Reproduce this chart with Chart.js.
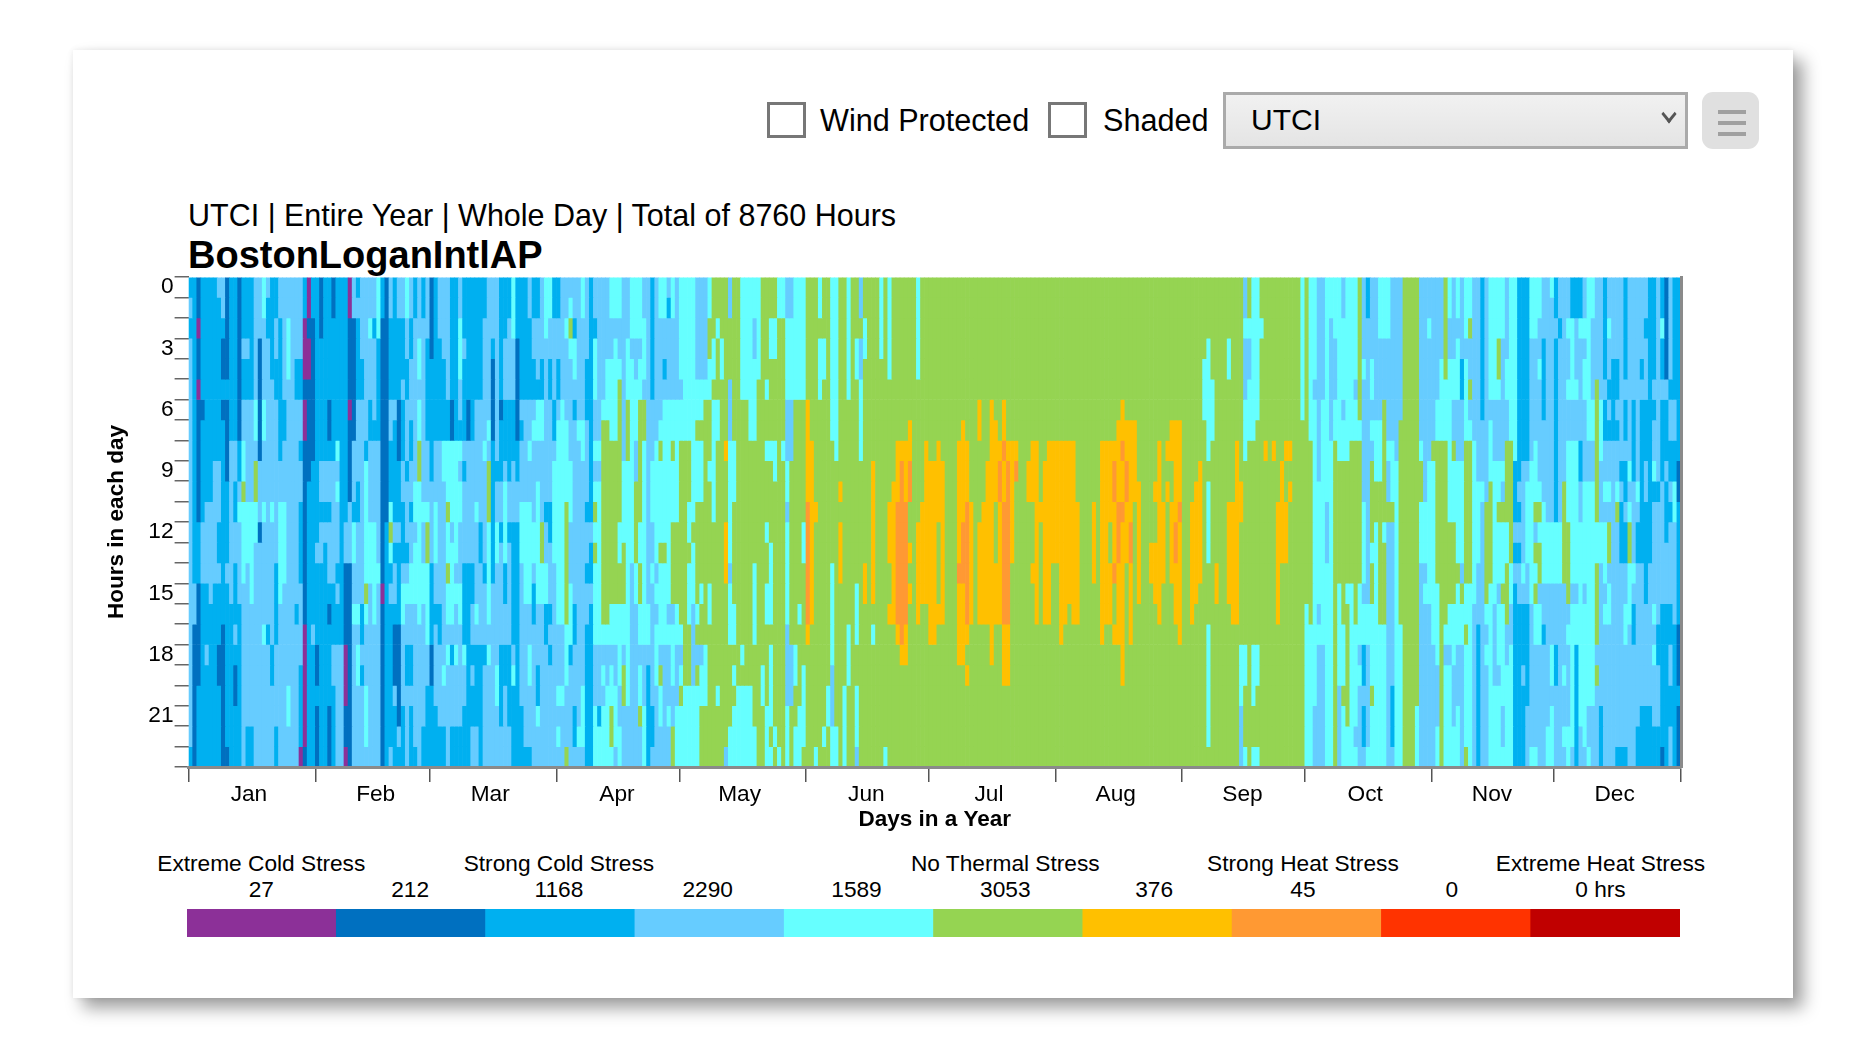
<!DOCTYPE html>
<html>
<head>
<meta charset="utf-8">
<title>UTCI</title>
<script src="https://cdn.jsdelivr.net/npm/chart.js@4"></script>
<style>
  html, body { margin: 0; padding: 0; background: #fff; width: 1860px; height: 1062px; overflow: hidden; }
  body { font-family: "Liberation Sans", Arial, sans-serif; color: #000; position: relative; }
  #card { position: absolute; left: 73px; top: 50px; width: 1720px; height: 948px; background: #fff;
          box-shadow: 10px 10px 16px rgba(0,0,0,.38), 0 0 6px rgba(0,0,0,.08); }
  .abs { position: absolute; white-space: nowrap; }
  .check { position: absolute; appearance: none; margin: 0; top: 102px; width: 39px; height: 36px;
           box-sizing: border-box; border: 3px solid #777; background: #fff; }
  .ctl { font-size: 30.6px; top: 103px; line-height: 34px; }
  #utci { position: absolute; left: 1229px; top: 92px; width: 465px; height: 57px; box-sizing: border-box;
          left: 1223px; appearance: none; border: 3px solid #aaa; border-radius: 0; padding: 0 0 3px 25px;
          font: 30px "Liberation Sans", Arial, sans-serif; color: #000;
          background: linear-gradient(#f1f1f1, #e4e4e4); }
  #chev { position: absolute; left: 1662px; top: 110px; width: 12px; height: 12px; box-sizing: border-box;
          left: 1663px; top: 108px; border-right: 3px solid #555; border-bottom: 3px solid #555; transform: rotate(45deg) skew(6deg, 6deg); }
  #menu { position: absolute; left: 1702px; top: 92px; width: 57px; height: 57px; background: #e0e0e0; border-radius: 11px; }
  #menu i { position: absolute; left: 16px; width: 28px; height: 4px; background: #a0a0a0; }
  #sub { left: 188px; top: 198px; font-size: 30.5px; line-height: 34px; }
  #name { left: 188px; top: 233px; font-size: 38px; line-height: 44px; font-weight: bold; }
  #heat { position: absolute; left: 100px; top: 250px; }
  #legendBar { position: absolute; left: 187px; top: 909px; }
  .lg { position: absolute; font-size: 22.7px; line-height: 26px; transform: translateX(-50%); white-space: nowrap; }
</style>
</head>
<body>
<div id="card"></div>
<input type="checkbox" class="check" style="left:767px">
<div class="abs ctl" style="left:820px">Wind Protected</div>
<input type="checkbox" class="check" style="left:1048px">
<div class="abs ctl" style="left:1103px">Shaded</div>
<select id="utci"><option>UTCI</option></select>
<div id="chev"></div>
<div id="menu"><i style="top:18px"></i><i style="top:29px"></i><i style="top:40px"></i></div>
<div class="abs" id="sub">UTCI | Entire Year | Whole Day | Total of 8760 Hours</div>
<div class="abs" id="name">BostonLoganIntlAP</div>
<canvas id="heat" width="1620" height="600"></canvas>
<canvas id="legendBar" width="1493" height="28"></canvas>
<div id="legendText"></div>
<script>
// stress class colours, coldest to hottest
const classColors = ["#8C3098", "#0070C0", "#00B0F0", "#66CCFF", "#66FFFF", "#95D452", "#FFC000", "#FF9933", "#FF3300", "#C00000"];
const legendNames = ["Extreme Cold Stress", "", "Strong Cold Stress", "", "", "No Thermal Stress", "", "Strong Heat Stress", "", "Extreme Heat Stress"];
const legendHours = ["27", "212", "1168", "2290", "1589", "3053", "376", "45", "0", "0 hrs"];

const monthNames = ["Jan", "Feb", "Mar", "Apr", "May", "Jun", "Jul", "Aug", "Sep", "Oct", "Nov", "Dec"];
const monthStarts = [0, 31, 59, 90, 120, 151, 181, 212, 243, 273, 304, 334, 365];
const monthLabelDays = [15, 46, 74, 105, 135, 166, 196, 227, 258, 288, 319, 349];
const hourLabels = [0, 3, 6, 9, 12, 15, 18, 21];

// one string per day, one class digit per hour (0-23)
const janDays = [
"232333 333333 333333 333332","222222 222222 222331 111111","110110 111111 222111 112222","222222 122222 333222 222222",
"222222 222223 333222 322222","222222 222223 333322 222222","222222 222333 333222 222222","322222 222333 223222 112222",
"332112 122222 222221 111111","111112 111122 223222 222221","222222 223333 333322 222222","222222 223322 332223 211222",
"111111 112234 333322 222222","222322 334454 444333 333333","222322 333334 443333 333322","222222 333334 444433 333322",
"333333 443554 433333 333333","333111 111333 133333 333333","443333 443334 333334 333333","322333 333333 333332 333333",
"222223 333334 333333 223333","223322 333333 332222 333322","332222 222334 444433 333333","333333 223334 444333 333333",
"334443 333333 333333 334433","333333 333333 333333 333333","333322 333333 333323 333333","333322 332332 222333 322220",
"220001 001111 111110 000001","001001 111122 222222 222222","221111 111222 222223 222222"];
const febDays = [
"222222 222222 232222 112111","111222 222332 332222 222222","222222 222332 322222 222222","222222 112332 333212 222111",
"112222 222333 333222 332222","222222 224343 332322 333333","222222 222222 222222 333333","222222 222222 331111 000110",
"001111 011113 331111 111111","331111 113332 443343 333333","232222 333322 333343 443333","333322 333333 333322 323333",
"333333 332444 444543 334443","334333 223333 444333 333333","332333 323333 444443 333333","444222 223333 334333 333333",
"221111 111111 111011 111111","111111 111111 222222 222222","332222 332224 542322 222223","222222 322222 323321 113222",
"332222 111222 322221 111132","332223 222332 223443 333222","443322 333233 323433 223333","332233 322332 334433 223222",
"223333 333344 344433 333332","333443 445544 444443 333333","223333 333334 334433 333322","333222 223334 554444 332222"];
const marDays = [
"111122 222233 332222 112222","222222 223334 443323 333222","333222 223333 333322 333322","333322 224433 333333 343322",
"333333 224445 445443 433333","222222 114444 344443 233322","222222 224444 443433 433322","334443 324344 333443 333322",
"222322 223233 332222 433222","222222 113333 332222 222222","222222 223333 332233 232233","222222 333334 333343 222233",
"222222 333333 223333 222222","223333 334333 332333 233333","333333 343555 444443 433333","333211 112222 222333 333333",
"333333 333233 443333 344333","222222 122233 233333 222233","222333 222344 442233 223333","223333 222233 233333 222233",
"444333 222333 222222 342222","222111 112233 222222 222222","222222 323334 443333 333222","222222 333334 444433 333332",
"332222 334334 444433 443332","223322 343333 443223 333333","223332 443344 444433 322433","333322 443333 554433 333333",
"444333 333332 334422 333333","443322 333332 233323 233333","223333 223444 443333 333333"];
const aprDays = [
"223322 344444 444443 334343","333333 444444 444443 334333","334333 344445 555554 443335","345433 333444 333444 233333",
"332443 233333 333322 333223","333333 343333 333333 333343","443333 344333 333333 334443","333322 233332 332332 222222",
"222222 222222 322322 222222","332444 334345 454444 333444","333333 334344 444444 333244","333333 455555 555554 343444",
"333344 455555 555554 334444","443344 445555 555544 344554","443444 445555 555544 334443","443345 555555 445544 443344",
"333333 333444 455544 355333","333444 555444 444444 444333","444344 444444 443333 333333","444334 443355 554433 333333",
"444344 555555 445544 344533","334443 554444 444444 333444","333333 333333 333344 322222","222222 333444 334333 333223",
"333333 334444 443434 443333","443333 345444 454444 354433","443323 444444 454444 333333","323333 444444 444434 333433",
"443333 445444 555534 443355","333333 444444 555544 333444"];
const mayDays = [
"444443 445555 555554 345444","444444 445555 555555 554444","444444 445554 454445 554444","444444 444444 544433 334444",
"333334 454445 555545 354444","333334 454445 555455 344555","333334 555555 555555 444555","445544 555455 555445 555555",
"555445 444444 555555 555555","554555 445555 555555 554555","555445 555555 555555 555555","555555 556555 666555 555553",
"335553 334444 443444 555544","555555 554445 555544 545444","555555 555555 555555 554444","444444 555555 555555 454444",
"444444 555555 555555 554444","444444 445555 555555 554444","443344 445555 554444 555544","444445 555555 555555 555555",
"555555 555555 555555 544555","555554 554555 455445 555444","554455 554555 544445 444454","554455 554455 555555 555545",
"445555 555555 555555 555554","445555 554555 555555 555555","334444 333443 444443 333444","334444 333555 555555 333555",
"444444 555555 555555 445544","444444 555555 555545 555444","444444 555555 445555 544445"];
const junDays = [
"555555 666667 777776 555555","555555 556666 666665 555555","555555 555556 555555 555554","445444 555555 555555 555555",
"555445 555555 555555 555545","555555 555555 555555 554455","444444 445555 554444 433344","444444 444555 555555 555544",
"555555 555565 666555 555555","555555 555555 555555 554444","444444 555555 555554 445555","555555 555555 555555 555555",
"555445 555555 555444 554443","335334 444555 555555 555555","554455 555555 556655 555555","555555 555555 555555 555555",
"555555 555666 666654 555555","555555 555555 555555 555555","444455 555555 555555 555555","555555 555555 555555 555554",
"444445 555556 665565 555555","555555 555566 666665 555555","555555 556667 777776 555555","555555 556777 777777 655555",
"555555 556667 777776 655555","555555 566775 565655 555555","555555 555555 555555 555555","444445 555555 666665 555555",
"555555 555556 666655 555555","555555 556666 666655 555555"];
const julDays = [
"555555 555666 666666 555555","555555 555666 666666 555555","555555 556666 555565 555555","555555 555666 666665 555555",
"555555 555555 555555 555555","555555 555555 555555 555555","555555 555555 555555 555555","555555 556666 667666 655555",
"555555 566666 777666 655555","555555 556667 777776 565555","555555 555556 666665 555555","555555 555555 555555 555555",
"555555 665555 666665 555555","555555 555556 666665 555555","555555 555666 666665 555555","555555 666666 666666 655555",
"555555 566665 556665 555555","555555 556776 666665 555555","555555 667667 777776 665555","555555 556777 777776 665555",
"555555 556666 665555 555555","555555 556755 555555 555555","555555 555555 555555 555555","555555 555555 555555 555555",
"555555 555665 555555 555555","555555 556665 556555 555555","555555 556666 666665 555555","555555 555556 555555 555555",
"555555 555666 666665 555555","555555 556666 666665 555555","555555 556666 665555 555555"];
const augDays = [
"555555 556666 665555 555555","555555 556666 666666 555555","555555 556666 666665 555555","555555 556666 666655 555555",
"555555 556666 666665 555555","555555 555556 666665 555555","555555 555555 555555 555555","555555 555555 555555 555555",
"555555 555555 555555 555555","555555 555556 666555 555555","555555 555555 555555 555555","555555 556666 666666 555555",
"555555 556666 666665 555555","555555 556666 556665 555555","555555 556776 667556 555555","555555 566667 776666 555555",
"555555 667667 666666 665555","555555 566776 665555 555555","555555 566666 776666 555555","555555 566665 555555 555555",
"555555 555566 666655 555555","555555 555555 555555 555555","555555 555555 555555 555555","555555 555555 566555 555555",
"555555 555565 566655 555555","555555 556666 666665 555555","555555 555556 666555 555555","555555 556565 555555 555555",
"555555 566556 666555 555555","555555 566666 776665 555555","555555 566667 666666 555555"];
const sepDays = [
"555555 555555 555555 555555","555555 555555 555555 555555","555555 555556 666665 555555","555555 555566 666655 555555",
"555555 555666 666555 555555","555544 455555 555555 555555","555444 444544 445554 444445","555554 445555 555555 555555",
"555555 555555 556655 555555","555555 555555 555555 555555","555555 555555 555555 555555","555445 555556 666655 555555",
"555555 555556 666665 555555","555555 556666 666665 555555","555555 555566 555555 444333","334333 444555 555555 445554",
"554334 445555 555555 555555","444444 445555 555555 444554","444444 455555 555555 445554","554555 555555 555555 555555",
"555555 556555 555555 555555","555555 555555 555555 555555","555555 556555 555555 555555","555555 555556 666665 555555",
"555555 555666 665555 555555","555555 556556 665555 555555","555555 556565 555555 555555","555555 555555 555555 555555",
"555555 555555 555555 555555","444444 455555 555555 555555"];
const octDays = [
"555555 555555 555544 444444","444444 445555 555554 444444","444443 444444 444444 444333","333333 333344 444434 333333",
"333333 444444 444444 333333","444444 444443 334444 444444","443333 334444 444444 444444","444333 445555 555555 555555",
"444444 444555 555444 443333","334444 344555 555554 445444","444444 444555 555455 555544","444444 445555 555444 444444",
"444443 445555 555554 444434","555555 545555 555444 343333","333343 333334 444344 223223","223333 333333 333344 333334",
"333344 343555 545544 445444","333333 344455 444444 444444","444333 344455 555554 444444","444333 555555 455554 444444",
"444333 334335 333333 333333","333333 334445 333333 332223","333333 333444 444444 444444","333333 355555 555554 444444",
"555555 555555 555555 555555","555555 555555 555555 555555","555555 555555 555555 555555","555555 555555 555555 555444",
"333333 334554 443333 333333","333333 333334 443433 333333","334333 333444 444433 333333"];
const novDays = [
"333333 335444 444444 333333","333333 445555 555444 433344","333344 445555 555555 555555","555554 445555 555554 344444",
"443344 444444 555544 344444","333344 335444 555544 433344","443444 333444 445444 333444","333322 333444 443544 333333",
"444344 445555 555445 444445","445335 345555 555444 444444","333333 334444 444433 333333","333333 333344 443332 222222",
"222222 233343 333333 333333","333333 333335 555543 433333","444444 344455 555444 444444","444444 333444 444433 334444",
"444554 333445 444344 434444","444333 333435 444544 444334","333344 335555 445553 344444","444444 445555 554433 444444",
"444444 444222 323222 222222","222222 222232 323322 222222","222222 222333 334322 232222","222222 222344 443322 222333",
"444333 333444 444433 333334","444333 334445 354544 333334","443343 333345 455344 333333","333222 233334 444332 333333",
"333333 333333 444333 333344","433333 333333 444333 443444"];
const decDays = [
"223222 222222 444333 223333","332333 333333 444333 333333","333333 333355 555333 343343","334334 334444 555534 333344",
"224444 334444 444344 444443","223334 334444 444344 222222","224333 332233 444444 444433","334344 333344 444344 444443",
"444444 443344 444444 444334","443333 443344 444444 444333","333335 555555 445555 353333","333333 444333 443333 333222",
"222223 223343 444343 333333","334332 323343 553443 333333","333322 223333 333333 333333","333322 323345 333333 333332",
"333333 333232 223333 333332","222223 223223 223344 333332","333333 333434 554443 333333","333333 222233 334322 333333",
"333333 333343 223333 333322","333323 222222 223333 333222","332333 222332 222233 333222","222222 222222 223333 333222",
"222223 233423 333343 433322","333333 333323 333332 233322","224223 222233 333322 222221","111113 222322 233322 222222",
"333332 332232 333322 332233","222222 332244 333332 222222","222222 222112 222221 112111"];

const allDays = [...janDays, ...febDays, ...marDays, ...aprDays, ...mayDays, ...junDays,
                 ...julDays, ...augDays, ...sepDays, ...octDays, ...novDays, ...decDays]
    .map(d => d.replace(/ /g, ""));

// one stacked dataset per hour so hour 0 sits on top of the reversed axis
const hourSets = [];
for (let h = 0; h < 24; h++) {
    hourSets.push({
        data: allDays.map((d, i) => ({ x: i + 0.5, y: 1 })),
        backgroundColor: allDays.map(d => classColors[+d[h]]),
        borderWidth: 0,
        barPercentage: 1,
        categoryPercentage: 1
    });
}

const labelFont = { family: "'Liberation Sans', Arial, sans-serif", size: 22.7 };
const titleFont = { family: "'Liberation Sans', Arial, sans-serif", size: 22.5, weight: "bold" };

new Chart(document.getElementById("heat"), {
    type: "bar",
    data: { datasets: hourSets },
    options: {
        responsive: false,
        animation: false,
        layout: { padding: { left: 0, right: 39, top: 27, bottom: 0 } },
        plugins: { legend: { display: false }, tooltip: { enabled: false } },
        scales: {
            x: {
                type: "linear", stacked: true, min: 0, max: 365, offset: false,
                afterBuildTicks: s => {
                    s.ticks = [...monthStarts, ...monthLabelDays].sort((a, b) => a - b).map(v => ({ value: v }));
                },
                afterFit: s => { s.height = 83; },
                ticks: {
                    autoSkip: false, maxRotation: 0, padding: -1, labelOffset: -1, color: "#000", font: labelFont,
                    callback: v => {
                        const i = monthLabelDays.indexOf(v);
                        return i >= 0 ? monthNames[i] : "";
                    }
                },
                grid: {
                    drawOnChartArea: false, offset: false, tickLength: 15, lineWidth: 1.5,
                    tickColor: c => monthStarts.includes(c.tick.value) ? "#555" : "rgba(0,0,0,0)"
                },
                border: { color: "#8a8a8a", width: 3, z: 1 },
                title: { display: true, text: "Days in a Year", color: "#000", font: titleFont, padding: { top: 0, bottom: 17 } }
            },
            y: {
                type: "linear", stacked: true, reverse: true, min: 0, max: 24,
                afterBuildTicks: s => {
                    const t = [];
                    for (let v = 0; v <= 48; v++) t.push({ value: v / 2 });
                    s.ticks = t;
                },
                afterFit: s => { s.width = 88.6; },
                ticks: {
                    autoSkip: false, padding: 1, color: "#000", font: labelFont,
                    callback: v => hourLabels.includes(v - 0.5) ? String(v - 0.5) : ""
                },
                grid: {
                    drawOnChartArea: false, tickLength: 14, lineWidth: 1.5,
                    tickColor: c => Number.isInteger(c.tick.value) ? "#666" : "rgba(0,0,0,0)"
                },
                border: { display: false },
                title: { display: true, text: "Hours in each day", color: "#000", font: titleFont, padding: { top: 3, bottom: 0 } }
            },
            edge: {
                type: "linear", position: "right", min: 0, max: 24,
                afterFit: s => { s.width = 0; },
                ticks: { display: false },
                grid: { display: false },
                border: { color: "#8a8a8a", width: 3, z: 1 }
            }
        }
    }
});

new Chart(document.getElementById("legendBar"), {
    type: "bar",
    data: {
        labels: legendHours,
        datasets: [{
            data: legendHours.map(() => 1),
            backgroundColor: classColors,
            borderWidth: 0,
            barPercentage: 1,
            categoryPercentage: 1
        }]
    },
    options: {
        responsive: false,
        animation: false,
        plugins: { legend: { display: false }, tooltip: { enabled: false } },
        scales: {
            x: { display: false },
            y: { display: false, min: 0, max: 1 }
        }
    }
});

const legendText = document.getElementById("legendText");
legendHours.forEach((h, i) => {
    const cx = 261.3 + i * 148.8;
    const count = document.createElement("div");
    count.className = "lg";
    count.style.left = cx + "px";
    count.style.top = "876px";
    count.textContent = h;
    legendText.appendChild(count);
    if (legendNames[i]) {
        const name = document.createElement("div");
        name.className = "lg";
        name.style.left = cx + "px";
        name.style.top = "850px";
        name.textContent = legendNames[i];
        legendText.appendChild(name);
    }
});
</script>
</body>
</html>
